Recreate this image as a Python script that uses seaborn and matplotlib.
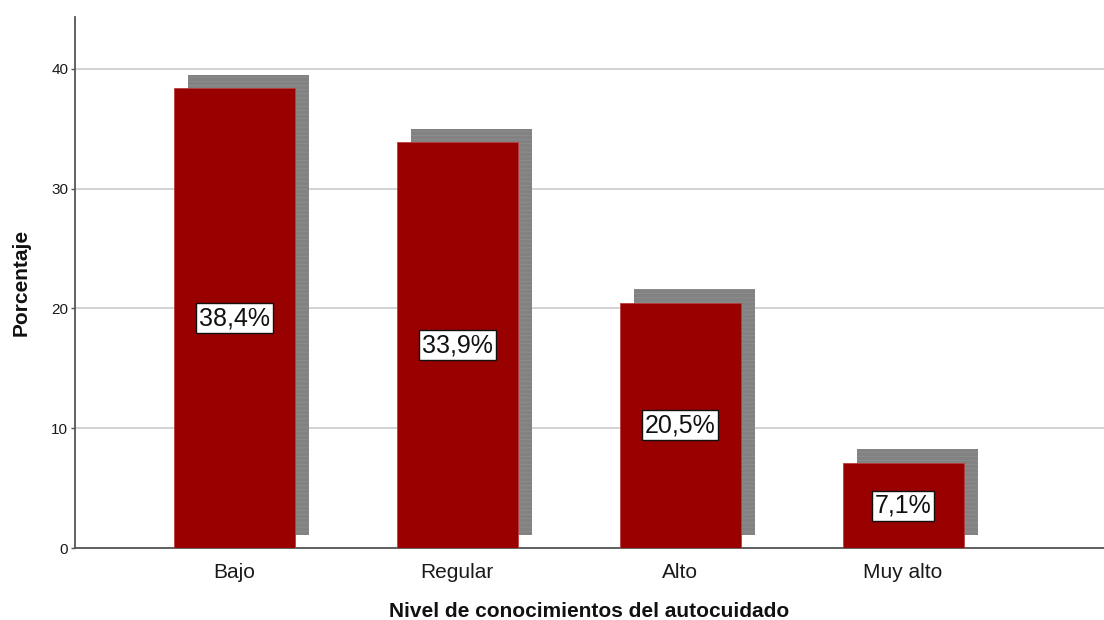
import matplotlib
matplotlib.use("Agg")
import matplotlib.pyplot as plt
import matplotlib.transforms as mtransforms
import seaborn as sns
import pandas as pd

# Distribución del nivel de conocimientos del autocuidado
categorias = ["Bajo", "Regular", "Alto", "Muy alto"]
porcentajes = [38.4, 33.9, 20.5, 7.1]
etiquetas = ["38,4%", "33,9%", "20,5%", "7,1%"]

df = pd.DataFrame({"nivel": categorias, "pct": porcentajes})

sns.set_theme(style="white")
plt.rcParams["font.family"] = ["Liberation Sans", "DejaVu Sans"]
plt.rcParams["hatch.linewidth"] = 0.4

fig = plt.figure(figsize=(11.04, 6.2), dpi=100)
ax = fig.add_axes([0.068, 0.1161, 0.932, 0.8565])

ancho = 0.543

# Sombra desplazada detrás de cada barra
sns.barplot(data=df, x="nivel", y="pct", order=categorias, color="#828282",
            width=ancho, saturation=1, ax=ax, zorder=2)
desplazamiento = mtransforms.ScaledTranslation(0.14, 0.135, fig.dpi_scale_trans)
for p in list(ax.patches):
    p.set_transform(ax.transData + desplazamiento)
    p.set_edgecolor("#939393")
    p.set_hatch("----")
    p.set_linewidth(0)
n_sombra = len(ax.patches)

# Barras principales
sns.barplot(data=df, x="nivel", y="pct", order=categorias, color="#990000",
            width=ancho, saturation=1, ax=ax, zorder=3)
for p in ax.patches[n_sombra:]:
    p.set_edgecolor("#b84040")
    p.set_linewidth(0.6)

# Etiquetas de valor en el centro de cada barra
for i, (v, txt) in enumerate(zip(porcentajes, etiquetas)):
    ax.text(i, v / 2, txt, ha="center", va="center", fontsize=18, color="#111111",
            zorder=5,
            bbox=dict(boxstyle="square,pad=0.12", facecolor="white",
                      edgecolor="#111111", linewidth=1.0))

ax.set_xlim(-0.713, 3.901)
ax.set_ylim(0, 44.34)
ax.set_yticks([0, 10, 20, 30, 40])
ax.yaxis.grid(True, color="#cfcfcf", linewidth=1.3, zorder=0)
ax.set_axisbelow(True)

for s in ["top", "right"]:
    ax.spines[s].set_visible(False)
for s in ["left", "bottom"]:
    ax.spines[s].set_color("#555555")
    ax.spines[s].set_linewidth(1.3)

ax.tick_params(axis="y", labelsize=11, length=3, width=1, color="#555555",
               pad=2, labelcolor="#1a1a1a", left=True)
ax.tick_params(axis="x", labelsize=15, length=0, pad=11, labelcolor="#1a1a1a")

ax.set_xlabel("Nivel de conocimientos del autocuidado", fontsize=15,
              fontweight="bold", labelpad=14, color="#111111")
ax.set_ylabel("Porcentaje", fontsize=15, fontweight="bold", labelpad=15,
              color="#111111")

fig.savefig("out.png", dpi=100)
